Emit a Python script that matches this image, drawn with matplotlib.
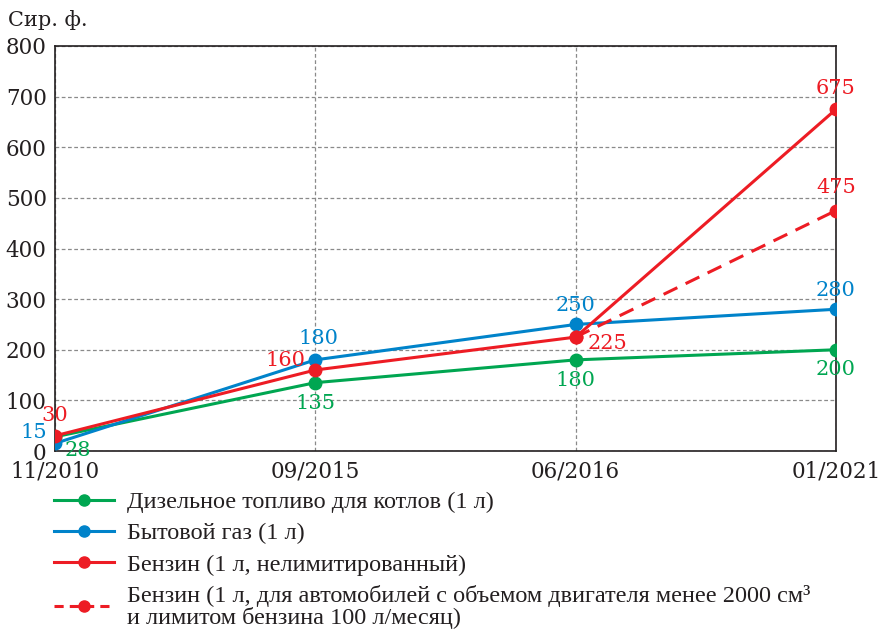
import matplotlib
matplotlib.use("Agg")
import matplotlib.pyplot as plt
from matplotlib.lines import Line2D

categories = ["11/2010", "09/2015", "06/2016", "01/2021"]
diesel = [28, 135, 180, 200]
gas = [15, 180, 250, 280]
petrol = [30, 160, 225, 675]
petrol_lim_x = [2, 3]
petrol_lim = [225, 475]
yticks = [0, 100, 200, 300, 400, 500, 600, 700, 800]
labels = ["Дизельное топливо для котлов (1 л)",
          "Бытовой газ (1 л)",
          "Бензин (1 л, нелимитированный)",
          "Бензин (1 л, для автомобилей с объемом двигателя менее 2000 см³\nи лимитом бензина 100 л/месяц)"]

GREEN = "#00A651"
BLUE = "#0083CA"
RED = "#ED1C24"

plt.rcParams['font.family'] = ['DejaVu Serif']
fig = plt.figure(figsize=(8.79, 6.30), dpi=100)
ax = fig.add_axes([55/879, 1-451/630, (836-55)/879, (451-46)/630])

x = list(range(len(categories)))
ms = 9
lw = 2.2
ax.plot(x, diesel, color=GREEN, marker='o', ms=ms, lw=lw, zorder=3)
ax.plot(x, gas, color=BLUE, marker='o', ms=ms, lw=lw, zorder=3)
ax.plot(x, petrol, color=RED, marker='o', ms=ms, lw=lw, zorder=4)
ax.plot(petrol_lim_x, petrol_lim, color=RED, marker='o', ms=ms, lw=lw, ls=(0, (5, 3)), zorder=4)

ax.set_xlim(0, 3)
ax.set_ylim(0, 800)
ax.set_yticks(yticks)
ax.set_xticks(x)
ax.set_xticklabels(categories)
ax.tick_params(length=0, labelsize=15.5, pad=7, colors='#231F20')
ax.tick_params(axis='y', pad=6)
ax.grid(True, ls=(0, (3, 2)), color='#8a8a8a', lw=0.9)
for s in ax.spines.values():
    s.set_color('#231F20')
    s.set_linewidth(1.2)

fig.text(8/879, 1-20/630, "Сир. ф.", fontsize=15, va='center', ha='left', color='#231F20')

def lab(xi, v, txt, dx, dy, color):
    ax.annotate(txt, (xi, v), xytext=(dx*0.72, dy*0.72), textcoords='offset points',
                ha='center', va='center', fontsize=15, color=color, zorder=5)

# green
lab(0, diesel[0], "28", 23, -14, GREEN)
lab(1, diesel[1], "135", 0, -21, GREEN)
lab(2, diesel[2], "180", 0, -21, GREEN)
lab(3, diesel[3], "200", 0, -20, GREEN)
# blue
lab(0, gas[0], "15", -21, 11, BLUE)
lab(1, gas[1], "180", 3, 21, BLUE)
lab(2, gas[2], "250", 0, 19, BLUE)
lab(3, gas[3], "280", 0, 19, BLUE)
# red
lab(0, petrol[0], "30", 0, 20, RED)
lab(1, petrol[1], "160", -30, 10, RED)
lab(2, petrol[2], "225", 32, -6, RED)
lab(3, petrol[3], "675", 0, 21, RED)
lab(3, petrol_lim[1], "475", 0, 23, RED)

handles = [Line2D([], [], color=GREEN, marker='o', ms=8, lw=lw),
           Line2D([], [], color=BLUE, marker='o', ms=8, lw=lw),
           Line2D([], [], color=RED, marker='o', ms=8, lw=lw),
           Line2D([], [], color=RED, marker='o', ms=8, lw=lw, ls=(0, (3, 2)))]
leg = fig.legend(handles, labels, loc='upper left', bbox_to_anchor=(54/879, 1-491/630),
                 frameon=False, fontsize=17.5, handlelength=2.45, handletextpad=0.55,
                 labelspacing=0.38, borderaxespad=0, borderpad=0)
for t in leg.get_texts():
    t.set_family('Liberation Serif')
    t.set_fontsize(17.5)
    t.set_color('#231F20')
    t.set_linespacing(1.02)

fig.savefig("out.png", dpi=100)
